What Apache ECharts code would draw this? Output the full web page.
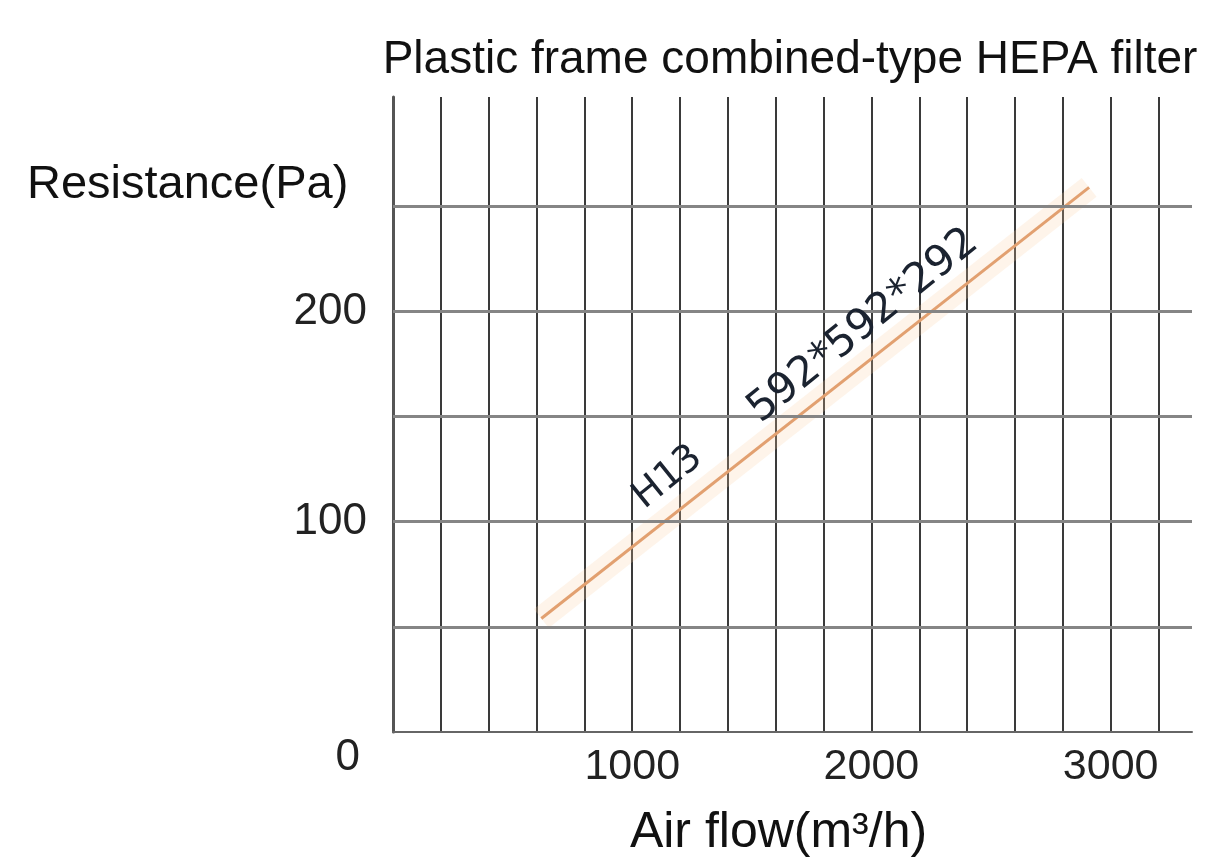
<!DOCTYPE html>
<html>
<head>
<meta charset="utf-8">
<style>
  html, body { margin: 0; padding: 0; background: #fff; }
  #chart { width: 1208px; height: 867px; }
</style>
<script src="https://cdn.jsdelivr.net/npm/echarts@6/dist/echarts.min.js"></script>
</head>
<body>
<div id="chart"></div>
<script>
// air flow (m3/h) -> resistance (Pa)
const airFlow = [620, 2910]
const resistance = [54, 259]
const hLines = [50, 100, 150, 200, 250]
const yTickLabels = [0, 100, 200]
const xTickLabels = [1000, 2000, 3000]
const notes = [
  { text: 'H13', coord: [1149, 121] },
  { text: '592*592*292', coord: [1966, 193] }
]

const chart = echarts.init(document.getElementById('chart'))
const lineData = airFlow.map((x, i) => [x, resistance[i]])

const option = {
  animation: false,
  title: {
    text: 'Plastic frame combined-type HEPA filter',
    left: 785,
    top: 32,
    textAlign: 'center',
    textStyle: { fontFamily: 'Liberation Sans', fontSize: 46, fontWeight: 'normal', color: '#111' }
  },
  grid: { left: 393, right: 16, top: 97, bottom: 135 },
  xAxis: {
    type: 'value',
    min: 0,
    max: 3340,
    interval: 200,
    name: 'Air flow(m³/h)',
    nameLocation: 'middle',
    nameGap: 76,
    nameTextStyle: { fontFamily: 'Liberation Sans', fontSize: 50, color: '#111', padding: [0, 28, 0, 0] },
    axisLine: { show: true, onZero: false, lineStyle: { color: '#666', width: 2 } },
    axisTick: { show: false },
    axisLabel: {
      margin: 14,
      fontFamily: 'Liberation Sans',
      fontSize: 43,
      color: '#222',
      formatter: v => (xTickLabels.includes(v) ? String(v) : '')
    },
    splitLine: { show: true, showMaxLine: false, lineStyle: { color: '#3a3a3a', width: 2 } }
  },
  yAxis: {
    type: 'value',
    min: 0,
    max: 302,
    interval: 100,
    axisLine: { show: true, lineStyle: { color: '#555', width: 3 } },
    axisTick: { show: false },
    axisLabel: {
      margin: 26,
      fontFamily: 'Liberation Sans',
      fontSize: 44,
      color: '#222',
      formatter: v => {
        if (v === 0) return '{o|0}'
        return yTickLabels.includes(v) ? String(v) : ''
      },
      rich: {
        o: { fontFamily: 'Liberation Sans', fontSize: 44, color: '#222', padding: [52, 7, 0, 0] }
      }
    },
    splitLine: { show: false }
  },
  graphic: [
    {
      type: 'text',
      left: 27,
      top: 162,
      style: { text: 'Resistance(Pa)', font: '47px "Liberation Sans"', fill: '#111' }
    }
  ],
  series: [
    {
      // soft orange band around the curve
      type: 'line',
      data: lineData,
      symbol: 'none',
      silent: true,
      lineStyle: { color: 'rgba(252, 205, 160, 0.22)', width: 24 },
      markLine: {
        silent: true,
        symbol: 'none',
        label: { show: false },
        lineStyle: { color: '#858585', width: 3, type: 'solid' },
        data: hLines.map(v => ({ yAxis: v }))
      },
      z: 1
    },
    {
      type: 'line',
      data: lineData,
      symbol: 'none',
      lineStyle: { color: '#e2a070', width: 3 },
      markPoint: {
        symbol: 'circle',
        symbolSize: 0,
        data: notes.map(n => ({
          coord: n.coord,
          label: {
            show: true,
            formatter: n.text,
            rotate: 39,
            fontFamily: 'DejaVu Sans',
            fontSize: n.text === 'H13' ? 38 : 42,
            color: '#1b2330'
          }
        }))
      },
      z: 3
    }
  ]
}

chart.setOption(option)
</script>
</body>
</html>
